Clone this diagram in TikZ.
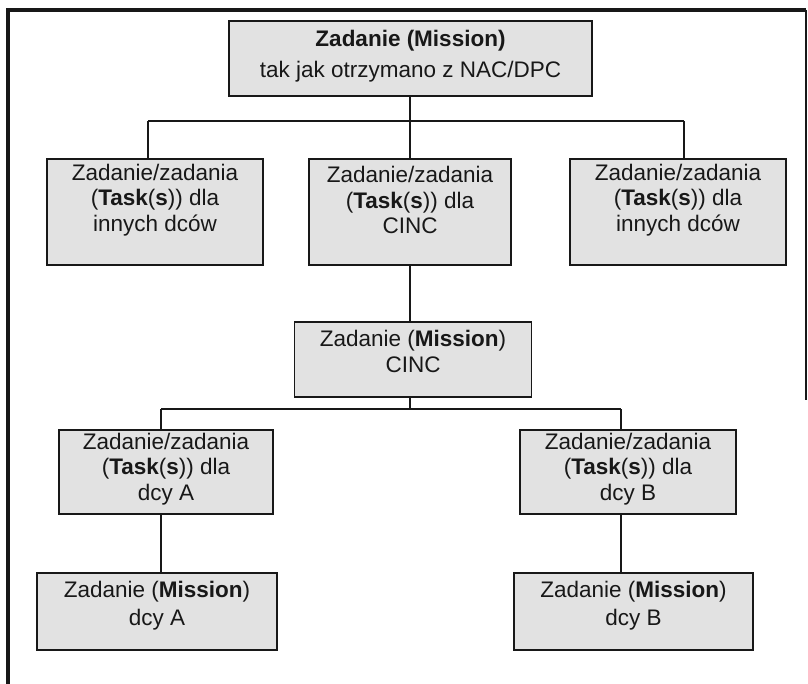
\documentclass[tikz,border=0pt]{standalone}
\usepackage{fontspec}
\setmainfont{Liberation Sans}
\definecolor{boxfill}{RGB}{226,226,226}
\definecolor{ink}{RGB}{24,24,24}
\begin{document}
\begin{tikzpicture}[x=1pt,y=-1pt,
  orgbox/.style={draw=ink,line width=1.8pt,fill=boxfill,inner sep=0pt},
  orgtext/.style={text=ink,align=center,inner sep=0pt},
  fa/.style={font=\fontsize{22.5}{31}\selectfont},
  fb/.style={font=\fontsize{22.5}{25.5}\selectfont},
  fc/.style={font=\fontsize{22.5}{28}\selectfont},
  conn/.style={draw=ink,line width=2.8pt}]
\useasboundingbox (0,0) rectangle (808,684);
\fill[white] (0,0) rectangle (808,684);
% frame
\draw[ink,line width=4.5pt] (8,684) -- (8,10) -- (806,10);
\draw[ink,line width=2pt] (806,10) -- (806,400);
% boxes
\node[orgbox,minimum width=363pt,minimum height=75pt] (top) at (410.5,58.5) {};
\node[orgbox,minimum width=216pt,minimum height=106pt] (l2) at (155,212) {};
\node[orgbox,minimum width=202pt,minimum height=106pt] (m2) at (410,212) {};
\node[orgbox,minimum width=216pt,minimum height=106pt] (r2) at (678,212) {};
\node[orgbox,minimum width=237pt,minimum height=75pt] (cinc) at (413,359.5) {};
\node[orgbox,minimum width=214pt,minimum height=84pt] (l4) at (166,472) {};
\node[orgbox,minimum width=216pt,minimum height=84pt] (r4) at (628,472) {};
\node[orgbox,minimum width=240pt,minimum height=77pt] (l5) at (157,611.5) {};
\node[orgbox,minimum width=239pt,minimum height=77pt] (r5) at (633.5,611.5) {};
% texts
\node[orgtext,fa] (topT) at ([yshift=2pt]top.center)
  {\textbf{Zadanie (Mission)}\\tak jak otrzymano z NAC/DPC};
\node[orgtext,fb] (l2T) at ([yshift=12pt]l2.center)
  {Zadanie/zadania\\(\textbf{Task}(\textbf{s})) dla\\innych dców};
\node[orgtext,fb] (m2T) at ([yshift=12pt]m2.center)
  {Zadanie/zadania\\(\textbf{Task}(\textbf{s})) dla\\CINC};
\node[orgtext,fb] (r2T) at ([yshift=12pt]r2.center)
  {Zadanie/zadania\\(\textbf{Task}(\textbf{s})) dla\\innych dców};
\node[orgtext,fb] (cincT) at ([yshift=8pt]cinc.center)
  {Zadanie (\textbf{Mission})\\CINC};
\node[orgtext,fb] (l4T) at ([yshift=3pt]l4.center)
  {Zadanie/zadania\\(\textbf{Task}(\textbf{s})) dla\\dcy A};
\node[orgtext,fb] (r4T) at ([yshift=3pt]r4.center)
  {Zadanie/zadania\\(\textbf{Task}(\textbf{s})) dla\\dcy B};
\node[orgtext,fc] (l5T) at ([yshift=6pt]l5.center)
  {Zadanie (\textbf{Mission})\\dcy A};
\node[orgtext,fc] (r5T) at ([yshift=6pt]r5.center)
  {Zadanie (\textbf{Mission})\\dcy B};
% connectors
\coordinate (b1L) at (148,121);
\coordinate (b1R) at (684,121);
\coordinate (b1M) at (410,121);
\coordinate (b2L) at (161,409);
\coordinate (b2R) at (621,409);
\coordinate (b2M) at (410,409);
\draw[conn] (b1L) -- (b1R);
\draw[conn] (top.south -| b1M) -- (b1M);
\draw[conn] (b1L) -- (b1L |- l2.north);
\draw[conn] (b1R) -- (b1R |- r2.north);
\draw[conn] (b1M) -- (m2.north);
\draw[conn] (m2.south) -- (m2.south |- cinc.north);
\draw[conn] (b2L) -- (b2R);
\draw[conn] (cinc.south -| b2M) -- (b2M);
\draw[conn] (b2L) -- (b2L |- l4.north);
\draw[conn] (b2R) -- (b2R |- r4.north);
\draw[conn] (l4.south -| b2L) -- (b2L |- l5.north);
\draw[conn] (r4.south -| b2R) -- (b2R |- r5.north);
\end{tikzpicture}
\end{document}
